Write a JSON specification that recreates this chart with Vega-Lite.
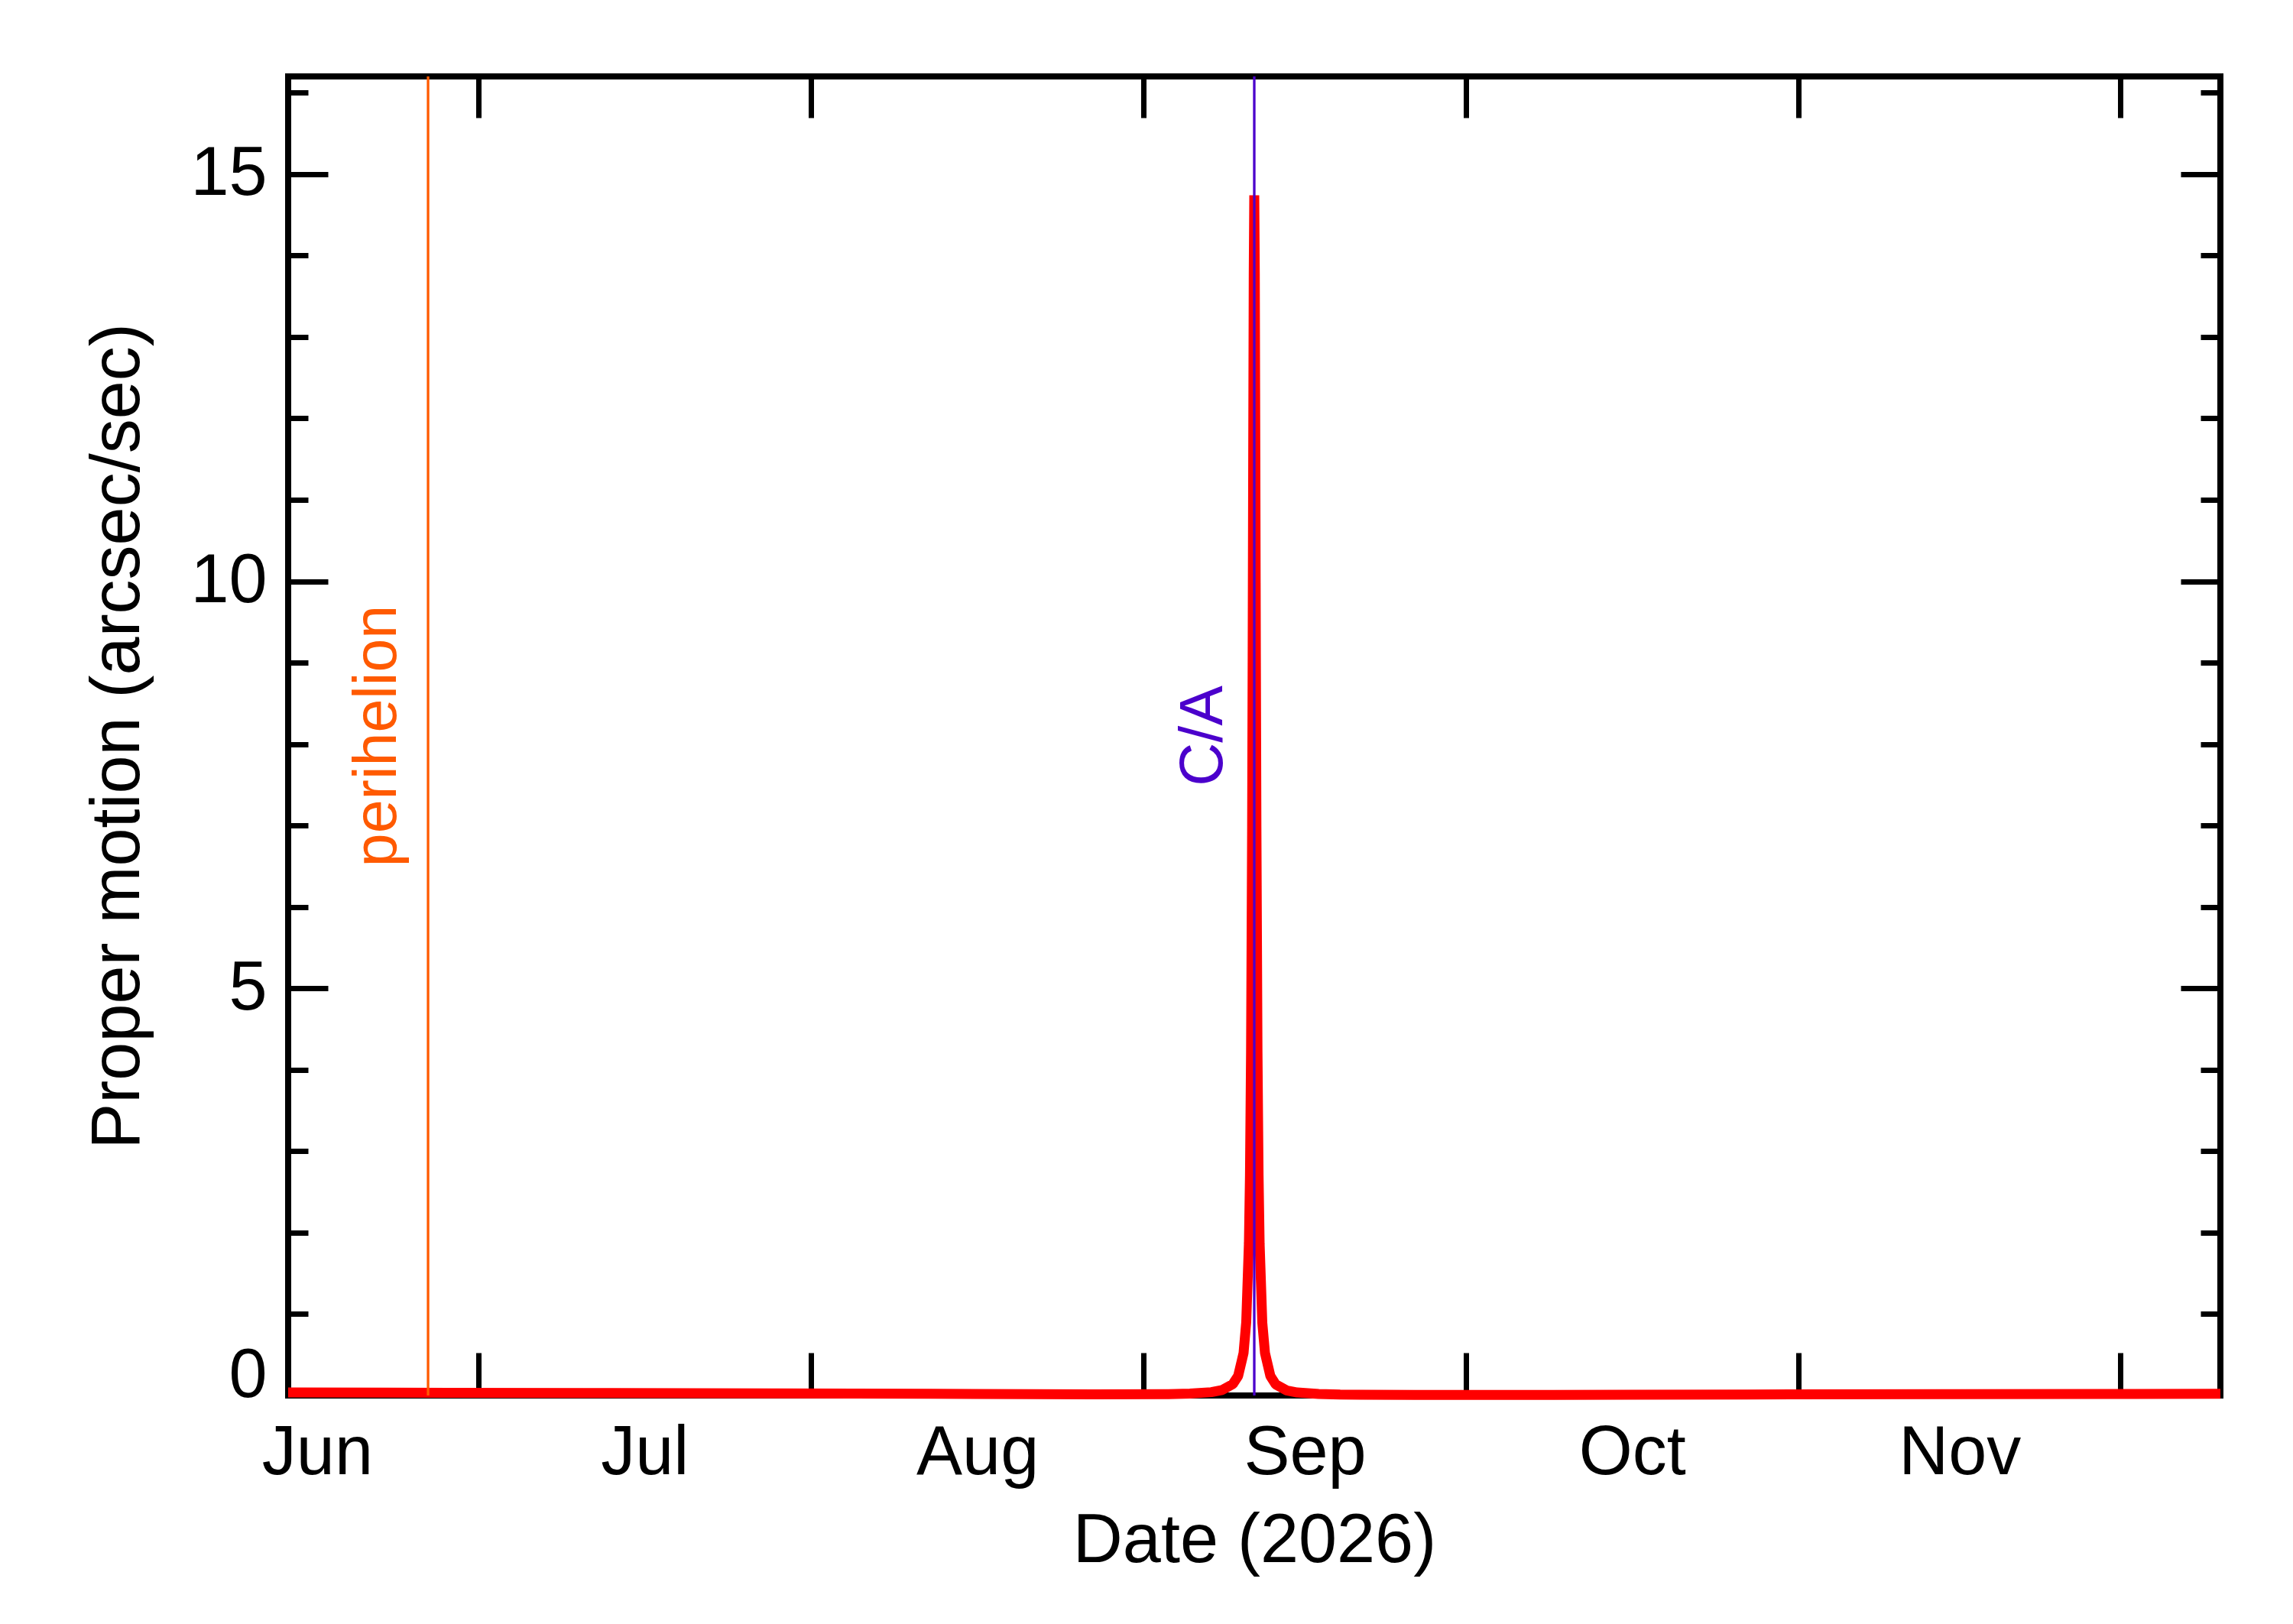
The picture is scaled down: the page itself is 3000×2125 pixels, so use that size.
{
  "$schema": "https://vega.github.io/schema/vega-lite/v6.json",
  "width": 2528,
  "height": 1726,
  "autosize": {"type": "none"},
  "padding": {"left": 377, "top": 100, "right": 95, "bottom": 299},
  "background": "white",
  "config": {
    "view": {"stroke": "black", "strokeWidth": 8},
    "font": "Liberation Sans",
    "axis": {
      "domain": false,
      "grid": false,
      "tickColor": "black",
      "tickWidth": 7,
      "labelColor": "black",
      "labelFont": "Liberation Sans",
      "labelFontSize": 90,
      "titleFont": "Liberation Sans",
      "titleFontSize": 90,
      "titleFontWeight": "normal",
      "titleColor": "black"
    }
  },
  "datasets": {
    "motion": [
      {"date": "2026-06-13T07:12", "pm": 0.038},
      {"date": "2026-06-28T07:12", "pm": 0.034},
      {"date": "2026-07-13T07:12", "pm": 0.030},
      {"date": "2026-07-28T07:12", "pm": 0.025},
      {"date": "2026-08-12T07:12", "pm": 0.020},
      {"date": "2026-08-27T07:12", "pm": 0.015},
      {"date": "2026-09-03T07:12", "pm": 0.016},
      {"date": "2026-09-05T07:12", "pm": 0.023},
      {"date": "2026-09-07T07:12", "pm": 0.041},
      {"date": "2026-09-08T07:12", "pm": 0.067},
      {"date": "2026-09-09T07:12", "pm": 0.14},
      {"date": "2026-09-09T19:12", "pm": 0.241},
      {"date": "2026-09-10T07:12", "pm": 0.52},
      {"date": "2026-09-10T13:12", "pm": 0.90},
      {"date": "2026-09-10T19:12", "pm": 1.87},
      {"date": "2026-09-10T21:36", "pm": 2.71},
      {"date": "2026-09-11T00:00", "pm": 4.22},
      {"date": "2026-09-11T02:24", "pm": 6.99},
      {"date": "2026-09-11T03:36", "pm": 9.08},
      {"date": "2026-09-11T04:48", "pm": 11.54},
      {"date": "2026-09-11T06:00", "pm": 13.78},
      {"date": "2026-09-11T07:12", "pm": 14.74},
      {"date": "2026-09-11T08:24", "pm": 13.78},
      {"date": "2026-09-11T09:36", "pm": 11.54},
      {"date": "2026-09-11T10:48", "pm": 9.08},
      {"date": "2026-09-11T12:00", "pm": 6.99},
      {"date": "2026-09-11T14:24", "pm": 4.22},
      {"date": "2026-09-11T16:48", "pm": 2.71},
      {"date": "2026-09-11T19:12", "pm": 1.86},
      {"date": "2026-09-12T01:12", "pm": 0.89},
      {"date": "2026-09-12T07:12", "pm": 0.52},
      {"date": "2026-09-12T19:12", "pm": 0.24},
      {"date": "2026-09-13T07:12", "pm": 0.136},
      {"date": "2026-09-14T07:12", "pm": 0.063},
      {"date": "2026-09-15T07:12", "pm": 0.037},
      {"date": "2026-09-17T07:12", "pm": 0.019},
      {"date": "2026-09-19T07:12", "pm": 0.012},
      {"date": "2026-09-26T07:12", "pm": 0.006},
      {"date": "2026-10-06T07:12", "pm": 0.006},
      {"date": "2026-10-16T07:12", "pm": 0.009},
      {"date": "2026-10-31T07:12", "pm": 0.013},
      {"date": "2026-11-15T07:12", "pm": 0.016},
      {"date": "2026-11-30T07:12", "pm": 0.019},
      {"date": "2026-12-10T07:12", "pm": 0.020}
    ],
    "events": [
      {"event": "perihelion", "date": "2026-06-26T08:00"},
      {"event": "C/A", "date": "2026-09-11T07:12"}
    ]
  },
  "resolve": {"axis": {"x": "independent", "y": "independent"}},
  "layer": [
    {
      "data": {"name": "motion"},
      "mark": {"type": "line", "color": "#FF0000", "strokeWidth": 13, "strokeJoin": "bevel", "strokeCap": "butt"},
      "encoding": {
        "x": {
          "field": "date",
          "type": "temporal",
          "scale": {
            "domain": [
              {"year": 2026, "month": 6, "date": 13, "hours": 7, "minutes": 12},
              {"year": 2026, "month": 12, "date": 10, "hours": 7, "minutes": 12}
            ],
            "nice": false
          },
          "axis": {
            "orient": "bottom",
            "ticks": false,
            "tickSize": 0,
            "values": [
              {"year": 2026, "month": 6, "date": 16},
              {"year": 2026, "month": 7, "date": 16, "hours": 12},
              {"year": 2026, "month": 8, "date": 16, "hours": 12},
              {"year": 2026, "month": 9, "date": 16},
              {"year": 2026, "month": 10, "date": 16, "hours": 12},
              {"year": 2026, "month": 11, "date": 16}
            ],
            "format": "%b",
            "labelBaseline": "alphabetic",
            "labelPadding": 102,
            "labelFlush": false,
            "labelOverlap": false,
            "title": "Date (2026)",
            "titleBaseline": "alphabetic",
            "titleX": 1264,
            "titleY": 217
          }
        },
        "y": {
          "field": "pm",
          "type": "quantitative",
          "scale": {"domain": [0, 16.2], "nice": false, "zero": false},
          "axis": {
            "orient": "left",
            "ticks": false,
            "tickSize": 0,
            "values": [0, 5, 10, 15],
            "labelPadding": 28,
            "labelFlush": true,
            "labelFlushOffset": 20,
            "title": "Proper motion (arcsec/sec)",
            "titleAngle": 270,
            "titleBaseline": "alphabetic",
            "titleAlign": "center",
            "titleX": -196,
            "titleY": 863
          }
        }
      }
    },
    {
      "data": {"name": "events"},
      "mark": {"type": "rule", "strokeWidth": 3.3},
      "encoding": {
        "x": {"field": "date", "type": "temporal", "axis": null},
        "color": {
          "field": "event",
          "type": "nominal",
          "scale": {"domain": ["perihelion", "C/A"], "range": ["#FF5A00", "#4B00CC"]},
          "legend": null
        }
      }
    },
    {
      "data": {"name": "events"},
      "transform": [{"filter": "datum.event === 'perihelion'"}],
      "mark": {"type": "text", "angle": 270, "align": "center", "baseline": "alphabetic", "dy": -42, "fontSize": 79, "font": "Liberation Sans"},
      "encoding": {
        "x": {
          "field": "date",
          "type": "temporal",
          "axis": {
            "orient": "bottom",
            "labels": false,
            "tickSize": -56,
            "values": [
              {"year": 2026, "month": 7, "date": 1},
              {"year": 2026, "month": 8, "date": 1},
              {"year": 2026, "month": 9, "date": 1},
              {"year": 2026, "month": 10, "date": 1},
              {"year": 2026, "month": 11, "date": 1},
              {"year": 2026, "month": 12, "date": 1}
            ],
            "title": null
          }
        },
        "y": {
          "datum": 8.1,
          "type": "quantitative",
          "axis": {
            "orient": "left",
            "labels": false,
            "values": [0, 1, 2, 3, 4, 5, 6, 7, 8, 9, 10, 11, 12, 13, 14, 15, 16],
            "tickSize": {"condition": {"test": "datum.value % 5 === 0", "value": -52}, "value": -26},
            "title": null
          }
        },
        "text": {"field": "event", "type": "nominal"},
        "color": {"field": "event", "type": "nominal", "legend": null}
      }
    },
    {
      "data": {"name": "events"},
      "transform": [{"filter": "datum.event === 'C/A'"}],
      "mark": {"type": "text", "angle": 270, "align": "center", "baseline": "alphabetic", "dy": -42, "fontSize": 79, "font": "Liberation Sans"},
      "encoding": {
        "x": {
          "field": "date",
          "type": "temporal",
          "axis": {
            "orient": "top",
            "labels": false,
            "tickSize": -54,
            "values": [
              {"year": 2026, "month": 7, "date": 1},
              {"year": 2026, "month": 8, "date": 1},
              {"year": 2026, "month": 9, "date": 1},
              {"year": 2026, "month": 10, "date": 1},
              {"year": 2026, "month": 11, "date": 1},
              {"year": 2026, "month": 12, "date": 1}
            ],
            "title": null
          }
        },
        "y": {
          "datum": 8.1,
          "type": "quantitative",
          "axis": {
            "orient": "right",
            "labels": false,
            "values": [0, 1, 2, 3, 4, 5, 6, 7, 8, 9, 10, 11, 12, 13, 14, 15, 16],
            "tickSize": {"condition": {"test": "datum.value % 5 === 0", "value": -52}, "value": -26},
            "title": null
          }
        },
        "text": {"field": "event", "type": "nominal"},
        "color": {"field": "event", "type": "nominal", "legend": null}
      }
    }
  ]
}
